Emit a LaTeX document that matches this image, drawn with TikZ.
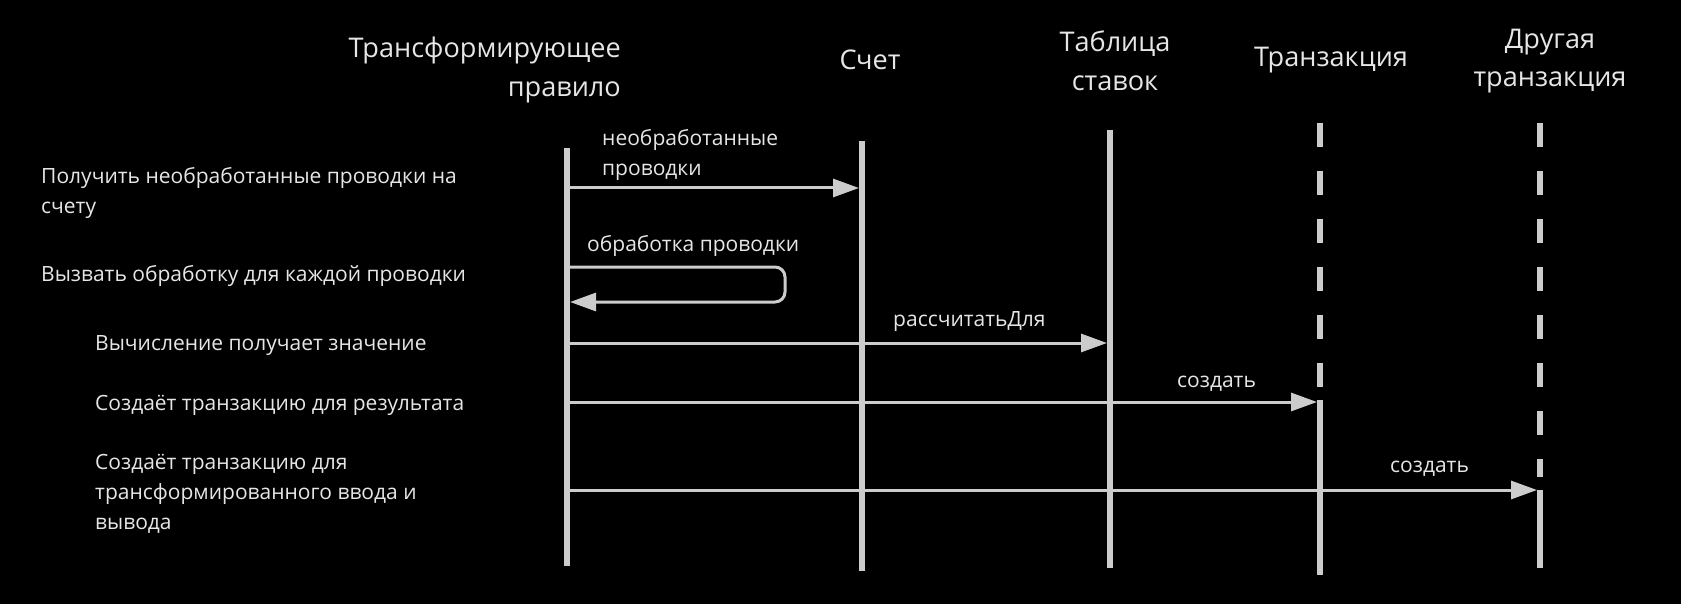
\documentclass[tikz,border=0pt]{standalone}
\usepackage{fontspec}
\setmainfont{Open Sans}
\usetikzlibrary{arrows.meta}
\definecolor{linec}{HTML}{CCCCCC}
\definecolor{textc}{HTML}{E6E6E6}
\tikzset{
  lifeline/.style={draw=linec, line width=6pt},
  dashline/.style={draw=linec, line width=6pt, dash pattern=on 24pt off 24pt},
  msg/.style={draw=linec, line width=3pt, -{Triangle[length=26pt,width=18pt]}},
  hdr/.style={text=textc, font=\fontsize{27.1}{38.6}\selectfont, inner sep=0pt},
  lbl/.style={text=textc, font=\fontsize{21}{30}\selectfont, inner sep=0pt, align=left, anchor=west},
}
\begin{document}
\begin{tikzpicture}[x=1pt,y=-1pt]
\fill[black] (0,0) rectangle (1681,604);
\useasboundingbox (0,0) rectangle (1681,604);
% lifeline coordinates
\coordinate (L1t) at (567,148); \coordinate (L1b) at (567,566);
\coordinate (L2t) at (862,141); \coordinate (L2b) at (862,571);
\coordinate (L3t) at (1110,130); \coordinate (L3b) at (1110,568);
\coordinate (L4t) at (1320,123); \coordinate (L4d) at (1320,390);
\coordinate (L4s) at (1320,400); \coordinate (L4b) at (1320,575);
\coordinate (L5t) at (1540,123); \coordinate (L5d) at (1540,477);
\coordinate (L5s) at (1540,490); \coordinate (L5b) at (1540,568);
\draw[lifeline] (L1t) -- (L1b);
\draw[lifeline] (L2t) -- (L2b);
\draw[lifeline] (L3t) -- (L3b);
\draw[dashline] (L4t) -- (L4d);
\draw[lifeline] (L4s) -- (L4b);
\draw[dashline] (L5t) -- (L5d);
\draw[lifeline] (L5s) -- (L5b);
% headers
\node[hdr, align=right, anchor=east] (h1) at (621,70) {Трансформирующее\\правило};
\node[hdr] (h2) at (870,60) {Счет};
\node[hdr, align=center] (h3) at (1115,61) {Таблица\\ставок};
\node[hdr] (h4) at (1331,60) {Транзакция};
\node[hdr, align=center] (h5) at (1550,61) {Другая\\транзакция};
% left descriptions
\node[lbl] (a1) at (41,193) {Получить необработанные проводки на\\счету};
\node[lbl] (a2) at (41,276) {Вызвать обработку для каждой проводки};
\node[lbl] (a3) at (95,346) {Вычисление получает значение};
\node[lbl] (a4) at (95,405) {Создаёт транзакцию для результата};
\node[lbl] (a5) at (95,494) {Создаёт транзакцию для\\трансформированного ввода и\\вывода};
% message endpoints
\coordinate (m1s) at (567,188); \coordinate (m1e) at (859,188);
\coordinate (m2s) at (567,267); \coordinate (m2c1) at (785,267);
\coordinate (m2c2) at (785,302); \coordinate (m2e) at (570,302);
\coordinate (m3s) at (567,343); \coordinate (m3e) at (1107,343);
\coordinate (m4s) at (567,402); \coordinate (m4e) at (1317,402);
\coordinate (m5s) at (567,490); \coordinate (m5e) at (1537,490);
\draw[msg] (m1s) -- (m1e);
\draw[msg, rounded corners=10pt] (m2s) -- (m2c1) -- (m2c2) -- (m2e);
\draw[msg] (m3s) -- (m3e);
\draw[msg] (m4s) -- (m4e);
\draw[msg] (m5s) -- (m5e);
% message labels
\node[lbl] (t1) at (602,155) {необработанные\\проводки};
\node[lbl] (t2) at (587,246) {обработка проводки};
\node[lbl] (t3) at (893,322) {рассчитатьДля};
\node[lbl] (t4) at (1177,384) {создать};
\node[lbl] (t5) at (1390,469) {создать};
\end{tikzpicture}
\end{document}
